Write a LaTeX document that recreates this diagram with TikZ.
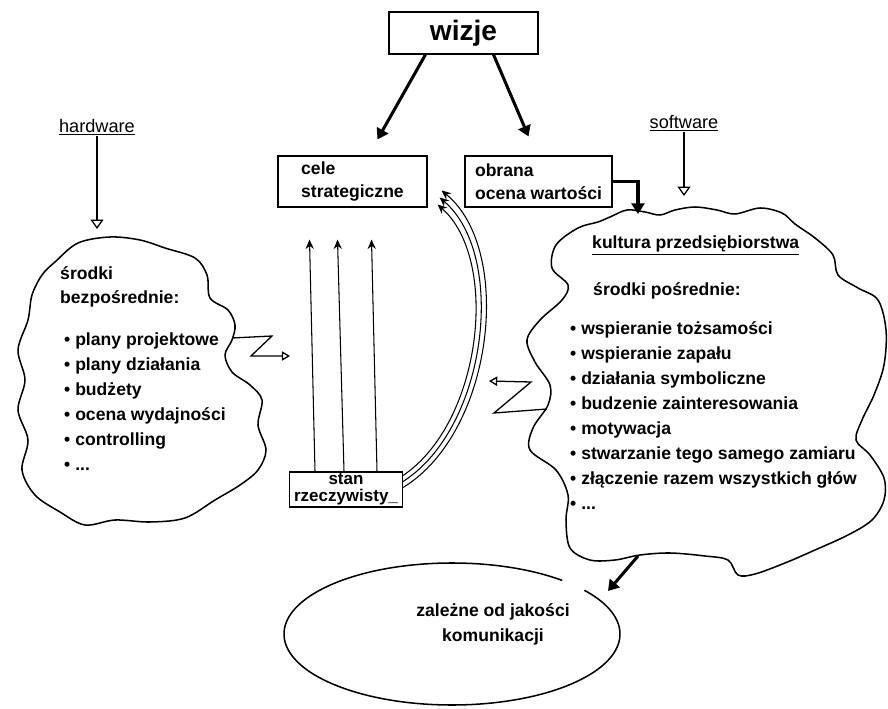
\documentclass[tikz,border=0pt]{standalone}
\usepackage{fontspec}
\setmainfont{Liberation Sans}
\usetikzlibrary{arrows.meta,calc,positioning}
\tikzset{>=Stealth}
\tikzset{
  box/.style={draw, line width=1pt, align=left, inner sep=0pt, font=\fontsize{15}{19.5}\selectfont\bfseries},
  txt/.style={inner sep=0pt, align=left, anchor=base west, font=\fontsize{15}{21.25}\selectfont\bfseries},
  lbl/.style={inner sep=1pt, font=\fontsize{15.5}{17}\selectfont},
  blob/.style={line width=1.3pt},
  fat/.style={line width=2.6pt, -{Triangle[length=9pt,width=11pt]}},
  slim/.style={line width=0.9pt, -{Stealth[length=8pt,width=7pt]}},
  hollow/.style={line width=1.1pt, -{Triangle[open,length=8pt,width=11pt]}},
  zig/.style={line width=1.1pt, -{Triangle[open,length=7pt,width=8pt]}}
}
\begin{document}
\begin{tikzpicture}[x=0.03cm, y=-0.03cm]
  \useasboundingbox (0,0) rectangle (888,709);
  % boxes
  \node[box, align=center, minimum width=4.47cm, minimum height=1.26cm, font=\fontsize{24}{24}\selectfont\bfseries] (wizje) at (463.5,33) {wizje};
  \node[box, minimum width=4.47cm, minimum height=1.53cm] (cele) at (352.5,181.5) {cele\\strategiczne};
  \node[box, minimum width=4.41cm, minimum height=1.53cm] (obrana) at (538.5,181.5) {obrana\\ocena wartości};
  \node[box, align=center, minimum width=3.39cm, minimum height=1.05cm, font=\fontsize{14.5}{14.5}\selectfont\bfseries] (stan) at (346,489.5) {stan\\rzeczywisty\_};
  % labels on top
  \node[lbl] (hw) at (97,127) {\underline{hardware}};
  \node[lbl] (sw) at (684,123) {\underline{software}};
  % clouds
  \draw[blob] plot[smooth cycle, tension=0.55] coordinates {
    (55,262) (78,243) (110,237) (140,240) (165,248) (195,258) (207,275) (210,298)
    (228,310) (235,325) (232,340) (225,355) (232,372) (250,385) (262,400) (258,425)
    (266,450) (258,470) (240,485) (215,500) (185,518) (150,522) (115,520) (85,525)
    (60,512) (35,495) (22,470) (28,440) (18,410) (25,380) (18,350) (28,320) (32,295) (42,275)};
  \draw[blob] plot[smooth cycle, tension=0.55] coordinates {
    (610,217) (627,210) (645,212) (660,215) (675,210) (695,207) (717,210) (735,214)
    (760,208) (782,213) (795,224) (815,238) (833,255) (838,275) (858,288) (878,300)
    (886,330) (884,365) (874,395) (862,420) (856,440) (870,455) (884,478) (884,500)
    (872,520) (848,535) (815,550) (785,563) (755,574) (738,575) (728,560) (705,556)
    (670,553) (640,555) (615,560) (590,560) (570,548) (566,520) (568,495) (556,470)
    (530,450) (533,428) (548,405) (550,385) (535,362) (527,340) (540,320) (562,300)
    (568,285) (552,268) (556,245) (578,228) (598,222)};
  \coordinate (ell) at (452,634);
  \draw[blob] ([shift={(49:5.04cm and 2.13cm)}]ell) arc[start angle=49, end angle=398, x radius=5.04cm, y radius=2.13cm];
  % cloud texts (base = last line)
  \node[txt] (direct) at (60,304) {środki\\bezpośrednie:};
  \node[txt] (hwlist) at (64,470) {\textbullet\ plany projektowe\\\textbullet\ plany działania\\\textbullet\ budżety\\\textbullet\ ocena wydajności\\\textbullet\ controlling\\\textbullet\ ...};
  \node[txt] (kultura) at (592,249) {\underline{kultura przedsiębiorstwa}};
  \node[txt] (indirect) at (593,296) {środki pośrednie:};
  \node[txt] (swlist) at (570,509) {\textbullet\ wspieranie tożsamości\\\textbullet\ wspieranie zapału\\\textbullet\ działania symboliczne\\\textbullet\ budzenie zainteresowania\\\textbullet\ motywacja\\\textbullet\ stwarzanie tego samego zamiaru\\\textbullet\ złączenie razem wszystkich głów\\\textbullet\ ...};
  \node[txt, align=center, anchor=center] (komm) at (493,624) {zależne od jakości\\komunikacji};
  % arrows
  \draw[fat] ($(wizje.south)+(-38,0)$) -- ($(cele.north)+(25,-16)$);
  \draw[fat] ($(wizje.south)+(30,0)$) -- ($(obrana.north)+(-10,-19)$);
  \coordinate (kultop) at (638,214);
  \draw[fat] (obrana.east) -| (kultop);
  \coordinate (hwin) at (97,229);
  \coordinate (swin) at (684,196);
  \draw[hollow] (hw) -- (hwin);
  \draw[hollow] (sw) -- (swin);
  \foreach \a/\b in {-31/-43, -2/-15, 31/19}
    \draw[slim] ($(stan.north)+(\a,0)$) -- ($(cele.south)+(\b,32)$);
  \draw[slim] ($(stan.east)+(0,-2)$) .. controls (494,432) and (514,250) .. ($(cele.east)+(14,9)$);
  \draw[slim] ($(stan.east)+(0,-8)$) .. controls (488,427) and (507,255) .. ($(cele.east)+(12,16)$);
  \draw[slim] ($(stan.east)+(0,-14)$) .. controls (482,422) and (500,260) .. ($(cele.east)+(10,23)$);
  % zigzags
  \coordinate (hwz) at (232,338);
  \coordinate (zigL) at (290,356);
  \draw[zig] (hwz) -- (272,336) -- (251,356) -- (zigL);
  \coordinate (swz) at (547,409);
  \coordinate (zigR) at (489,381);
  \draw[zig] (swz) -- (494,413) -- (531,382) -- (zigR);
  \coordinate (swout) at (638,556);
  \coordinate (ellin) at (608,591);
  \draw[fat] (swout) -- (ellin);
\end{tikzpicture}
\end{document}
